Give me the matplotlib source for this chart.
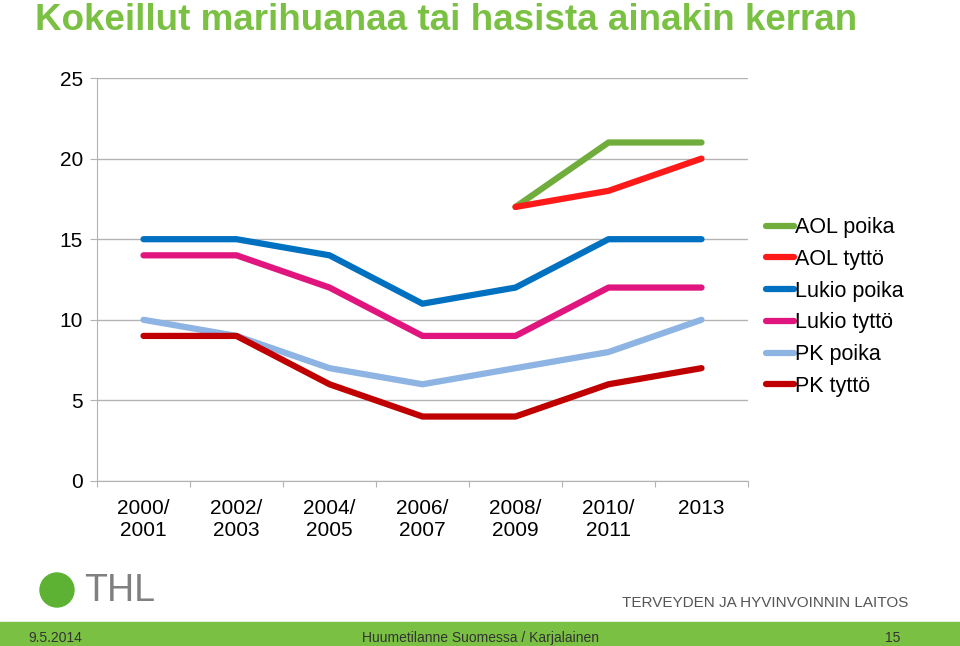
import numpy as np
import matplotlib.pyplot as plt
from matplotlib.patches import Rectangle, Ellipse

# Data
periods = ['2000/\n2001', '2002/\n2003', '2004/\n2005', '2006/\n2007',
           '2008/\n2009', '2010/\n2011', '2013']
aol_poika = [np.nan, np.nan, np.nan, np.nan, 17, 21, 21]
aol_tytto = [np.nan, np.nan, np.nan, np.nan, 17, 18, 20]
lukio_poika = [15, 15, 14, 11, 12, 15, 15]
lukio_tytto = [14, 14, 12, 9, 9, 12, 12]
pk_poika = [10, 9, 7, 6, 7, 8, 10]
pk_tytto = [9, 9, 6, 4, 4, 6, 7]

series = [
    ('AOL poika', aol_poika, '#70AD3C'),
    ('AOL tyttö', aol_tytto, '#FF1A1A'),
    ('Lukio poika', lukio_poika, '#0070C0'),
    ('Lukio tyttö', lukio_tytto, '#E0157E'),
    ('PK poika', pk_poika, '#8DB4E2'),
    ('PK tyttö', pk_tytto, '#C00000'),
]

plt.rcParams['font.family'] = ['Liberation Sans', 'DejaVu Sans']
green = '#7AC143'
grid_col = '#B3B3B3'

fig = plt.figure(figsize=(9.6, 6.46), dpi=100)
ax = fig.add_axes([97 / 960, 1 - 481 / 646, (748 - 97) / 960, (481 - 78) / 646])

x = np.arange(len(periods))
for name, vals, col in series:
    ax.plot(x, vals, color=col, linewidth=4.5, label=name, solid_capstyle='round')

ax.set_xlim(-0.5, len(periods) - 0.5)
ax.set_ylim(0, 25)
ax.set_yticks(range(0, 26, 5))
ax.yaxis.grid(True, color=grid_col, linewidth=1)
ax.set_axisbelow(True)

# ticks at category boundaries, labels at centres
ax.set_xticks(np.arange(-0.5, len(periods), 1))
ax.set_xticklabels([])
ax.set_xticks(x, minor=True)
ax.set_xticklabels(periods, minor=True, fontsize=15, linespacing=1.2, va='top')
ax.tick_params(axis='x', which='minor', length=0, pad=13)
ax.tick_params(axis='x', which='major', length=4, direction='out', color=grid_col)
ax.tick_params(axis='y', length=5, color=grid_col, labelsize=15, pad=5)

for s in ['top', 'right']:
    ax.spines[s].set_visible(False)
for s in ['left', 'bottom']:
    ax.spines[s].set_color(grid_col)

leg = ax.legend(loc='upper left', bbox_to_anchor=(1.028, 0.655), frameon=False,
                fontsize=15.5, handlelength=1.3, handletextpad=0.05,
                labelspacing=0.5, borderaxespad=0, borderpad=0)

# title
fig.text(35 / 960, 1 - 20 / 646, 'Kokeillut marihuanaa tai hasista ainakin kerran',
         color=green, fontsize=26.5, fontweight='bold', va='center', ha='left',
         family=['Liberation Sans Narrow', 'Liberation Sans'])

# footer band
fig.patches.append(Rectangle((0, 0), 1, 24 / 646, transform=fig.transFigure,
                             color=green, zorder=0))
fig.text(28 / 960, 8 / 646, '9.5.2014', fontsize=10, color='#333333', va='center',
         family=['Liberation Sans Narrow', 'Liberation Sans'])
fig.text(480 / 960, 8 / 646, 'Huumetilanne Suomessa / Karjalainen', fontsize=10,
         color='#333333', va='center', ha='center',
         family=['Liberation Sans Narrow', 'Liberation Sans'])
fig.text(893 / 960, 8 / 646, '15', fontsize=10, color='#333333', va='center', ha='center',
         family=['Liberation Sans Narrow', 'Liberation Sans'])

# THL logo
fig.patches.append(Ellipse((57 / 960, 1 - 590 / 646), 34 / 960, 34 / 646,
                           transform=fig.transFigure, color='#5DB233', zorder=2))
fig.text(84 / 960, 1 - 591 / 646, 'THL', fontsize=27, color='#808080', va='center',
         ha='left')
fig.text(908 / 960, 1 - 603 / 646, 'TERVEYDEN JA HYVINVOINNIN LAITOS', fontsize=11,
         color='#555555', va='center', ha='right',
         family=['Liberation Sans Narrow', 'Liberation Sans'])

fig.savefig('out.png', dpi=100)
